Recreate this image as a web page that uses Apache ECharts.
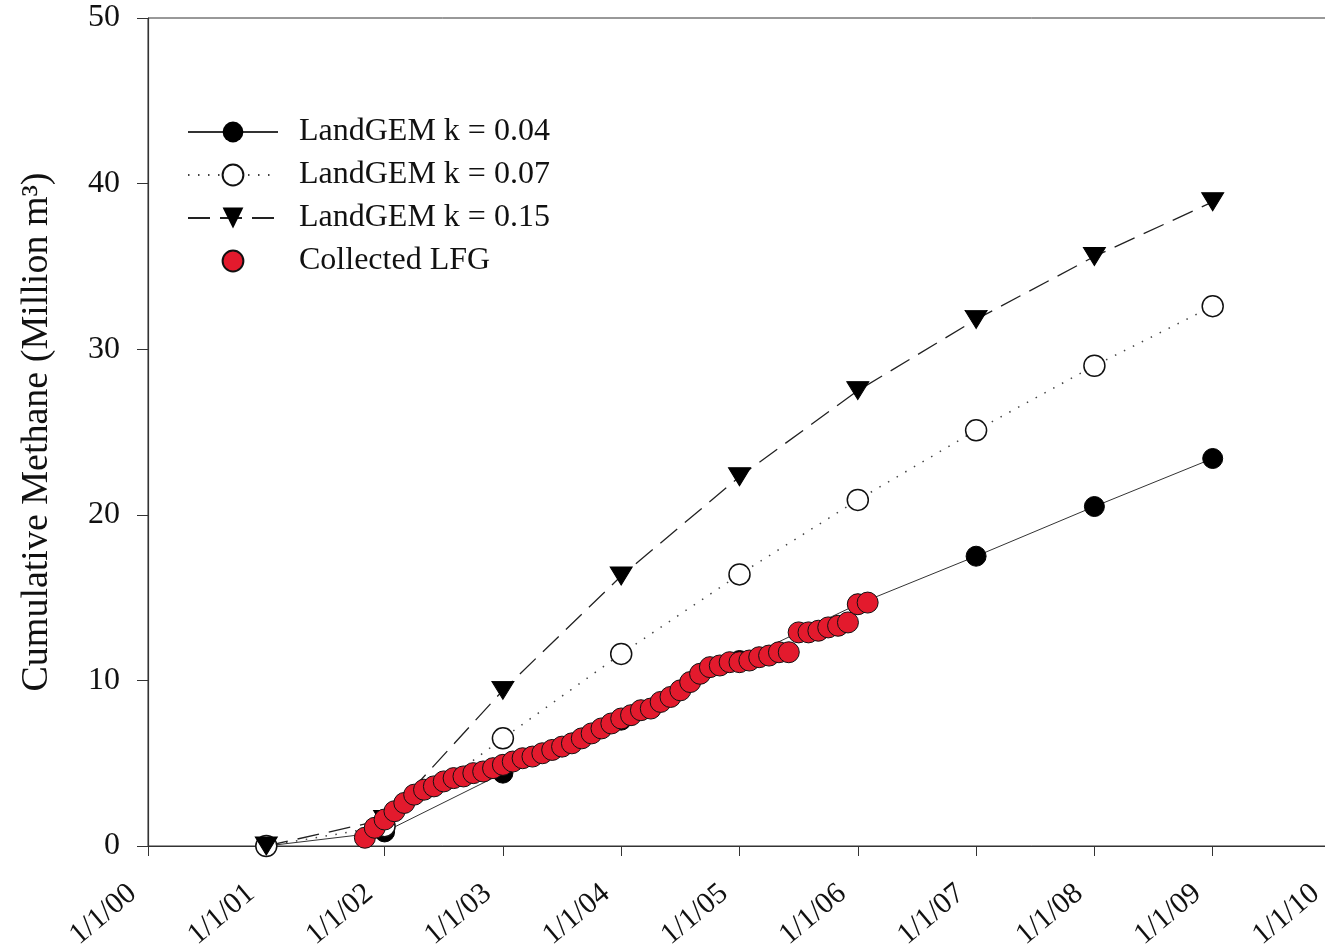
<!DOCTYPE html>
<html>
<head>
<meta charset="utf-8">
<script src="https://cdn.jsdelivr.net/npm/echarts@6/dist/echarts.min.js"></script>
<style>
  html, body { margin: 0; padding: 0; background: #fff; }
  #container { width: 1325px; height: 947px; }
</style>
</head>
<body>
<div id="container"></div>
<script>
// LandGEM model years (1 Jan of each year)
var modelYears = [2001, 2002, 2003, 2004, 2005, 2006, 2007, 2008, 2009];
var k004 = [0, 0.85, 4.4, 7.6, 11.2, 14.6, 17.5, 20.5, 23.4];
var k007 = [0, 1.2, 6.5, 11.6, 16.4, 20.9, 25.1, 29.0, 32.6];
var k015 = [0, 1.6, 9.4, 16.3, 22.3, 27.5, 31.8, 35.6, 38.9];

// collected landfill gas, monthly
var lfgMonths = [
    '2001-11', '2001-12',
    '2002-01', '2002-02', '2002-03', '2002-04', '2002-05', '2002-06', '2002-07', '2002-08', '2002-09', '2002-10', '2002-11', '2002-12',
    '2003-01', '2003-02', '2003-03', '2003-04', '2003-05', '2003-06', '2003-07', '2003-08', '2003-09', '2003-10', '2003-11', '2003-12',
    '2004-01', '2004-02', '2004-03', '2004-04', '2004-05', '2004-06', '2004-07', '2004-08', '2004-09', '2004-10', '2004-11', '2004-12',
    '2005-01', '2005-02', '2005-03', '2005-04', '2005-05', '2005-06', '2005-07', '2005-08', '2005-09', '2005-10', '2005-11', '2005-12',
    '2006-01', '2006-02'
];
var lfgValues = [0.5, 1.1, 1.6, 2.1, 2.6, 3.1, 3.4, 3.6, 3.9, 4.1,
    4.2, 4.4, 4.5, 4.7, 4.9, 5.1, 5.3, 5.4, 5.6, 5.8,
    6.0, 6.2, 6.5, 6.8, 7.1, 7.4, 7.7, 7.9, 8.2, 8.3,
    8.7, 9.0, 9.4, 9.9, 10.4, 10.8, 10.9, 11.1, 11.1, 11.2,
    11.4, 11.5, 11.7, 11.7, 12.9, 12.9, 13.0, 13.2, 13.3, 13.5,
    14.6, 14.7];

var xTickLabels = ['1/1/00', '1/1/01', '1/1/02', '1/1/03', '1/1/04', '1/1/05',
    '1/1/06', '1/1/07', '1/1/08', '1/1/09', '1/1/10'];

var seriesNames = ['LandGEM k = 0.04', 'LandGEM k = 0.07', 'LandGEM k = 0.15', 'Collected LFG'];

var serif = '"Liberation Serif", "Times New Roman", serif';

function pairs(xs, ys) {
    var out = [];
    for (var i = 0; i < xs.length; i++) {
        out.push([xs[i], ys[i]]);
    }
    return out;
}

// "2003-05" -> decimal year
function monthToYear(s) {
    var p = s.split('-');
    return parseInt(p[0], 10) + (parseInt(p[1], 10) - 1) / 12;
}

var lfgYears = lfgMonths.map(monthToYear);

var dom = document.getElementById('container');
var myChart = echarts.init(dom);

var option = {
    animation: false,
    backgroundColor: '#fff',
    grid: {
        left: 148,
        right: -6,
        top: 18,
        bottom: 101,
        outerBoundsMode: 'none',
        containLabel: false,
        show: true,
        borderColor: '#333',
        borderWidth: 1
    },
    legend: {
        orient: 'vertical',
        left: 187,
        top: 116,
        padding: 0,
        itemWidth: 90,
        itemHeight: 26,
        itemGap: 11,
        data: seriesNames,
        textStyle: {
            fontFamily: serif,
            fontSize: 32,
            color: '#111',
            padding: [0, 0, 0, 16]
        }
    },
    xAxis: {
        type: 'value',
        min: 2000,
        max: 2010,
        interval: 1,
        splitLine: { show: false },
        axisLine: { lineStyle: { color: '#333', width: 1.2 } },
        axisTick: { length: 10, lineStyle: { color: '#333' } },
        axisLabel: {
            rotate: 40,
            margin: 31,
            padding: [0, 20, 0, 0],
            fontFamily: serif,
            fontSize: 30,
            color: '#111',
            showMaxLabel: true,
            hideOverlap: false,
            formatter: function (v) {
                return xTickLabels[Math.round(v - 2000)];
            }
        }
    },
    yAxis: {
        type: 'value',
        min: 0,
        max: 50,
        interval: 10,
        name: 'Cumulative Methane (Million m³)',
        nameLocation: 'middle',
        nameGap: 92,
        nameTextStyle: {
            fontFamily: serif,
            fontSize: 38,
            color: '#111'
        },
        splitLine: { show: false },
        axisLine: { show: true, lineStyle: { color: '#333', width: 1.2 } },
        axisTick: { show: true, length: 11, lineStyle: { color: '#333' } },
        axisLabel: {
            margin: 28,
            fontFamily: serif,
            fontSize: 32,
            color: '#111'
        }
    },
    series: [
        {
            name: seriesNames[0],
            type: 'line',
            z: 2,
            data: pairs(modelYears, k004),
            symbol: 'circle',
            symbolSize: 20,
            itemStyle: { color: '#000', borderColor: '#000' },
            lineStyle: { color: '#333', width: 1 }
        },
        {
            name: seriesNames[1],
            type: 'line',
            z: 2,
            data: pairs(modelYears, k007),
            symbol: 'circle',
            symbolSize: 21,
            itemStyle: { color: '#fff', borderColor: '#111', borderWidth: 1.5 },
            lineStyle: { color: '#444', width: 1.5, type: [1.5, 8.5] }
        },
        {
            name: seriesNames[2],
            type: 'line',
            z: 2,
            data: pairs(modelYears, k015),
            symbol: 'triangle',
            symbolRotate: 180,
            symbolSize: [22, 18],
            itemStyle: { color: '#000', borderColor: '#000' },
            lineStyle: { color: '#222', width: 1.3, type: [22, 10] }
        },
        {
            // markers only: the connecting line is hidden
            name: seriesNames[3],
            type: 'line',
            z: 5,
            data: pairs(lfgYears, lfgValues),
            symbol: 'circle',
            symbolSize: 21,
            showAllSymbol: true,
            itemStyle: { color: '#e31a2d', borderColor: '#111', borderWidth: 1, opacity: 1 },
            lineStyle: { opacity: 0 }
        }
    ]
};

if (option && typeof option === 'object') {
    myChart.setOption(option, true);
}
</script>
</body>
</html>
